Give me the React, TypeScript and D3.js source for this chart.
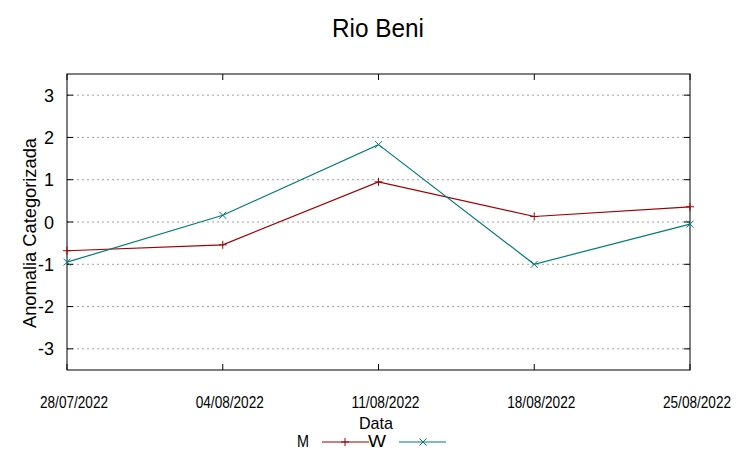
import React from "react";
import * as d3 from "d3";

const dates = ["28/07/2022", "04/08/2022", "11/08/2022", "18/08/2022", "25/08/2022"];
const seriesM = [-0.68, -0.54, 0.95, 0.13, 0.36];
const seriesW = [-0.95, 0.16, 1.83, -1.0, -0.05];
const yTicks = [-3, -2, -1, 0, 1, 2, 3];

const W = 753, H = 459;
const L = 67, R = 690, T = 74, B = 370;

export default function App() {
  const x = d3.scalePoint<string>().domain(dates).range([L, R]);
  const y = d3.scaleLinear().domain([-3.5, 3.5]).range([B, T]);
  const line = d3.line<number>().x((_, i) => x(dates[i])!).y((d) => y(d));
  const red = "#a00000";
  const teal = "#007b7b";
  const font = "'Liberation Sans', Arial, sans-serif";
  const plus = (cx: number, cy: number, c: string, k: string) => (
    <path key={k} d={`M${cx - 4},${cy}H${cx + 4}M${cx},${cy - 4}V${cy + 4}`} stroke={c} strokeWidth={1} />
  );
  const cross = (cx: number, cy: number, c: string, k: string) => (
    <path key={k} d={`M${cx - 3.5},${cy - 3.5}L${cx + 3.5},${cy + 3.5}M${cx - 3.5},${cy + 3.5}L${cx + 3.5},${cy - 3.5}`} stroke={c} strokeWidth={1} />
  );
  return (
    <svg width={W} height={H} style={{ position: "absolute", left: 0, top: 0, background: "#fff" }} fontFamily={font}>
      <rect width={W} height={H} fill="#fff" />
      <text x={378} y={37} textAnchor="middle" fontSize={26} textLength={92} lengthAdjust="spacingAndGlyphs" fill="#000">Rio Beni</text>
      {yTicks.map((t) => (
        <g key={t}>
          <line x1={L} x2={R} y1={y(t)} y2={y(t)} stroke="#a0a0a0" strokeDasharray="2,3" strokeWidth={1} />
          <line x1={L} x2={L + 6} y1={y(t)} y2={y(t)} stroke="#000" />
          <line x1={R - 6} x2={R} y1={y(t)} y2={y(t)} stroke="#000" />
          <text x={54} y={y(t) + 6.5} textAnchor="end" fontSize={18} fill="#000">{t}</text>
        </g>
      ))}
      {dates.map((d) => (
        <g key={d}>
          <line x1={x(d)} x2={x(d)} y1={B} y2={B - 6} stroke="#000" />
          <line x1={x(d)} x2={x(d)} y1={T} y2={T + 6} stroke="#000" />
          <text x={x(d)! + 7} y={408} textAnchor="middle" fontSize={16} textLength={68} lengthAdjust="spacingAndGlyphs" fill="#000">{d}</text>
        </g>
      ))}
      <rect x={L} y={T} width={R - L} height={B - T} fill="none" stroke="#000" strokeWidth={1} />
      <path d={line(seriesM)!} fill="none" stroke={red} strokeWidth={1.2} />
      {seriesM.map((v, i) => plus(x(dates[i])!, y(v), red, "m" + i))}
      <path d={line(seriesW)!} fill="none" stroke={teal} strokeWidth={1.2} />
      {seriesW.map((v, i) => cross(x(dates[i])!, y(v), teal, "w" + i))}
      <text transform={`translate(36,233) rotate(-90)`} textAnchor="middle" fontSize={19} textLength={190} lengthAdjust="spacingAndGlyphs" fill="#000">Anomalia Categorizada</text>
      <text x={376} y={428.5} textAnchor="middle" fontSize={17} textLength={34} lengthAdjust="spacingAndGlyphs" fill="#000">Data</text>
      <text x={297} y={447} fontSize={16} textLength={12} lengthAdjust="spacingAndGlyphs" fill="#000">M</text>
      <line x1={322} x2={369} y1={442} y2={442} stroke={red} strokeWidth={1.2} />
      {plus(345, 442, red, "lm")}
      <text x={368} y={447} fontSize={16} textLength={18} lengthAdjust="spacingAndGlyphs" fill="#000">W</text>
      <line x1={399} x2={446} y1={442} y2={442} stroke={teal} strokeWidth={1.2} />
      {cross(423, 442, teal, "lw")}
    </svg>
  );
}
